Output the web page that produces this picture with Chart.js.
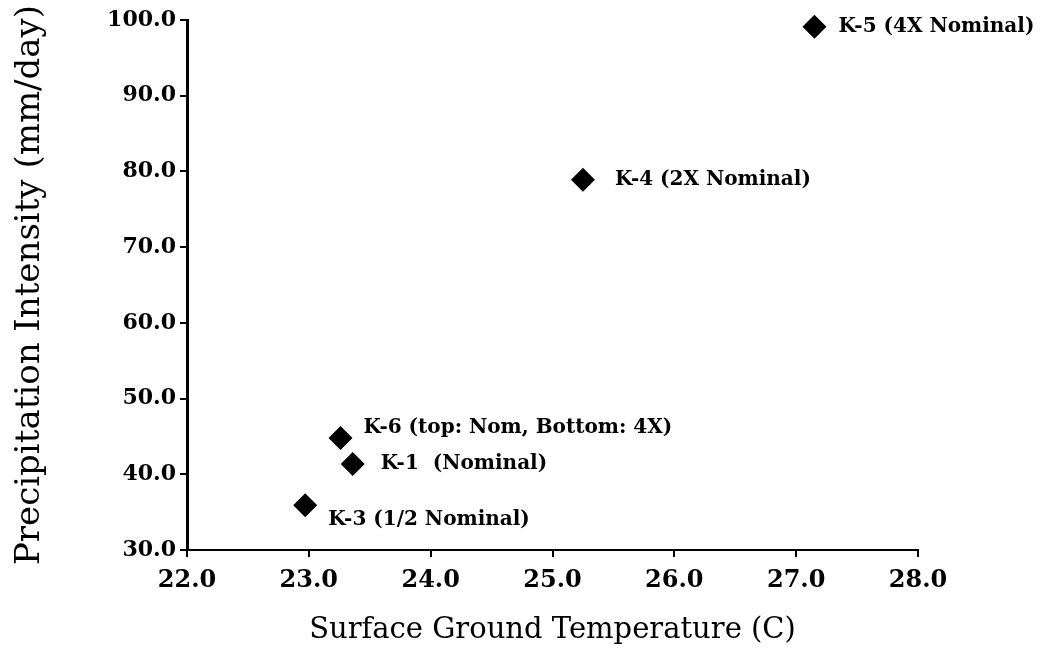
<!DOCTYPE html>
<html>
<head>
<meta charset="utf-8">
<script src="https://cdn.jsdelivr.net/npm/chart.js@4/dist/chart.umd.min.js"></script>
<style>
	html, body { margin: 0; padding: 0; background: #fff; }
	#wrap { width: 1044px; height: 654px; }
</style>
</head>
<body>
<div id="wrap"><canvas id="chart1" width="1044" height="654"></canvas></div>
<script>
// values
const runNames = ['K-5 (4X Nominal)', 'K-4 (2X Nominal)', 'K-6 (top: Nom, Bottom: 4X)', 'K-1  (Nominal)', 'K-3 (1/2 Nominal)'];
const groundTemp = [27.15, 25.25, 23.26, 23.36, 22.97];
const precipRate = [99.1, 78.9, 44.8, 41.35, 35.9];

const xTicks = [22, 23, 24, 25, 26, 27, 28];
const yTicks = [30, 40, 50, 60, 70, 80, 90, 100];

// where each label sits relative to its marker (px)
const labelShift = [[24, 0], [32, 0], [23, -10], [28, 0], [23, 14]];

const serif = '"DejaVu Serif", "Liberation Serif", serif';

// draws the run name next to each marker
const pointLabels = {
	id: 'pointLabels',
	afterDatasetsDraw(chart) {
		const ctx = chart.ctx;
		const meta = chart.getDatasetMeta(0);
		ctx.save();
		ctx.fillStyle = '#000';
		ctx.font = 'bold 20px ' + serif;
		ctx.textAlign = 'left';
		ctx.textBaseline = 'middle';
		meta.data.forEach((pt, i) => {
			ctx.fillText(runNames[i], pt.x + labelShift[i][0], pt.y + labelShift[i][1]);
		});
		ctx.restore();
	}
};

const ds = {
	datasets: [{
		label: 'Runs',
		data: groundTemp.map((t, i) => ({ x: t, y: precipRate[i] })),
		clip: false,
		pointStyle: 'rectRot',
		pointRadius: 12,
		pointHoverRadius: 12,
		backgroundColor: '#000',
		borderColor: '#000',
		borderWidth: 0
	}]
};

const options = {
	responsive: false,
	animation: false,
	layout: {
		padding: { left: 0, right: 126, top: 20, bottom: 0 }
	},
	plugins: {
		legend: { display: false },
		tooltip: { enabled: false }
	},
	scales: {
		x: {
			type: 'linear',
			min: 22,
			max: 28,
			afterFit: (scale) => { scale.height = 104; },
			afterBuildTicks: (scale) => { scale.ticks = xTicks.map(v => ({ value: v })); },
			border: { display: true, color: '#000', width: 2 },
			grid: { drawOnChartArea: false, drawTicks: true, tickLength: 7, color: '#000', lineWidth: 2 },
			ticks: {
				color: '#000',
				padding: 9,
				maxRotation: 0,
				font: { family: serif, size: 24, weight: 'bold' },
				callback: (value) => value.toFixed(1)
			},
			title: {
				display: true,
				text: 'Surface Ground Temperature (C)',
				color: '#000',
				font: { family: serif, size: 29 },
				padding: { top: 0, bottom: 6 }
			}
		},
		y: {
			type: 'linear',
			min: 30,
			max: 100,
			afterFit: (scale) => { scale.width = 187; },
			afterBuildTicks: (scale) => { scale.ticks = yTicks.map(v => ({ value: v })); },
			border: { display: true, color: '#000', width: 3 },
			grid: { drawOnChartArea: false, drawTicks: true, tickLength: 7, color: '#000', lineWidth: 2 },
			ticks: {
				color: '#000',
				padding: 4,
				font: { family: serif, size: 22, weight: 'bold' },
				callback: (value) => value.toFixed(1)
			},
			title: {
				display: true,
				text: 'Precipitation Intensity (mm/day)',
				color: '#000',
				font: { family: serif, size: 34 },
				padding: { top: 10, bottom: 0 }
			}
		}
	}
};

const ctx1 = document.getElementById('chart1').getContext('2d');
const myScatter = new Chart(ctx1, {
	type: 'scatter',
	data: ds,
	options: options,
	plugins: [pointLabels]
});
</script>
</body>
</html>
